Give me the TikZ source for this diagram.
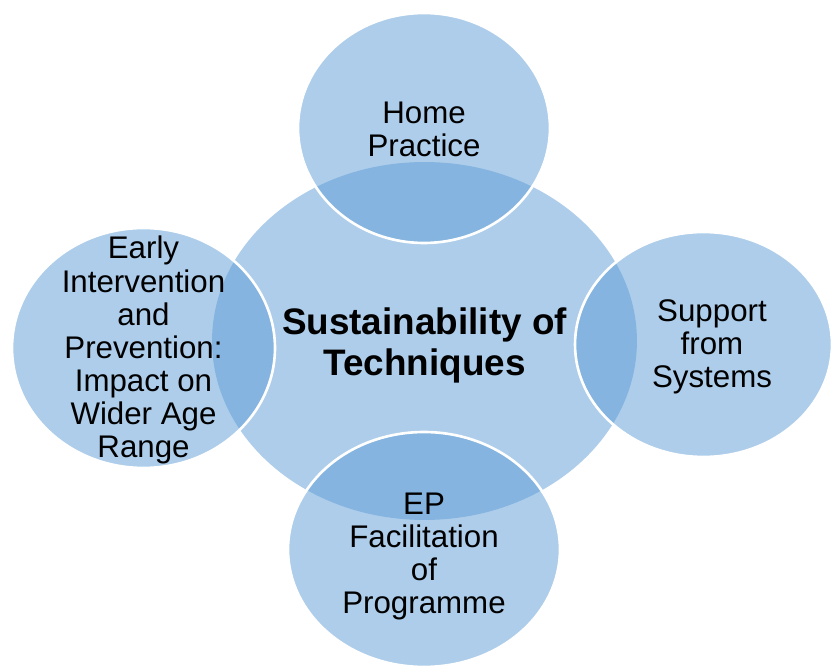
\documentclass[tikz,border=0pt]{standalone}
\usepackage{fontspec}
\setmainfont{Liberation Sans}
\usepackage{tikz}
\usetikzlibrary{shapes}
\usetikzlibrary{positioning}
\definecolor{petalblue}{RGB}{91,155,213}
\tikzset{
    hub/.style={ellipse, fill=petalblue, fill opacity=0.5, draw=none,
        minimum width=8.5cm, minimum height=7.16cm, inner sep=0pt},
    petal/.style={ellipse, fill=petalblue, fill opacity=0.5, draw=white,
        draw opacity=1, line width=1.5pt, inner sep=0pt},
    petaltext/.style={align=center, text=black, inner sep=0pt,
        font=\fontsize{17.8}{18.8}\selectfont},
    hubtext/.style={align=center, text=black, inner sep=0pt,
        font=\fontsize{21}{23.3}\selectfont\bfseries},
}
\begin{document}
\begin{tikzpicture}[x=0.02cm, y=-0.02cm]
	\useasboundingbox (0,0) rectangle (833,668);
%
	\node[hub] (hub) at (424.5,341) {};
	\node[petal, minimum width=5.04cm, minimum height=4.6cm] (home) at (424,128) {};
	\node[petal, minimum width=5.14cm, minimum height=4.5cm] (support) at (703.5,344.5) {};
	\node[petal, minimum width=5.26cm, minimum height=4.8cm] (early) at (143.5,348) {};
	\node[petal, minimum width=5.44cm, minimum height=4.7cm] (ep) at (424,549.5) {};
%
	\node[hubtext] (hublabel) at (424.5,345) {Sustainability of\\Techniques};
	\node[petaltext] (homelabel) at (424,129) {Home\\Practice};
	\node[petaltext] (supportlabel) at (712,347) {Support\\from\\Systems};
	\node[petaltext] (earlylabel) at (143.5,350) {Early\\Intervention\\and\\Prevention:\\Impact on\\Wider Age\\Range};
	\node[petaltext] (eplabel) at (424,556.5) {EP\\Facilitation\\of\\Programme};
\end{tikzpicture}
\end{document}
